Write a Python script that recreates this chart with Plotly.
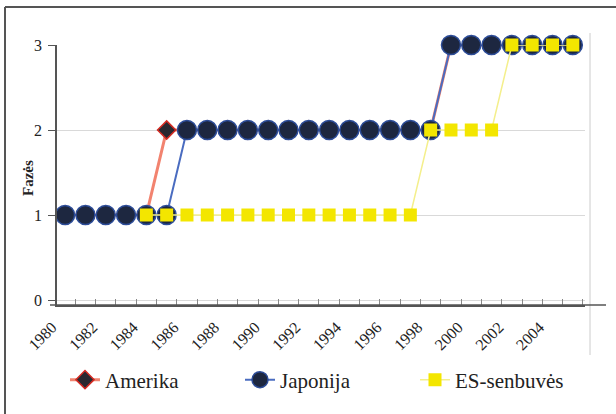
import plotly.graph_objects as go

years = [1980, 1981, 1982, 1983, 1984, 1985, 1986, 1987, 1988, 1989, 1990, 1991, 1992,
         1993, 1994, 1995, 1996, 1997, 1998, 1999, 2000, 2001, 2002, 2003, 2004, 2005]
amerika = [1, 1, 1, 1, 1, 2, 2, 2, 2, 2, 2, 2, 2, 2, 2, 2, 2, 2, 2, 3, 3, 3, 3, 3, 3, 3]
japonija = [1, 1, 1, 1, 1, 1, 2, 2, 2, 2, 2, 2, 2, 2, 2, 2, 2, 2, 2, 3, 3, 3, 3, 3, 3, 3]
es_senbuves = [None, None, None, None, 1, 1, 1, 1, 1, 1, 1, 1, 1, 1, 1, 1, 1, 1,
               2, 2, 2, 2, 3, 3, 3, 3]
tick_years = [1980, 1982, 1984, 1986, 1988, 1990, 1992, 1994, 1996, 1998, 2000, 2002, 2004]
tick_labels = [str(y) for y in tick_years]
y_ticks = [0, 1, 2, 3]
y_tick_labels = ["0", "1", "2", "3"]

FONT = "Liberation Serif"

fig = go.Figure()
fig.add_trace(go.Scatter(
    x=years, y=amerika, name="Amerika", mode="lines+markers",
    line=dict(color="#f2836f", width=3),
    marker=dict(symbol="diamond", size=14, color="#2a2830",
                line=dict(color="#d42a22", width=1.5)),
    cliponaxis=False,
))
fig.add_trace(go.Scatter(
    x=years, y=japonija, name="Japonija", mode="lines+markers",
    line=dict(color="#4a6cc0", width=2),
    marker=dict(symbol="circle", size=19, color="#1d2740",
                line=dict(color="#2c4c98", width=1.5)),
    cliponaxis=False,
))
fig.add_trace(go.Scatter(
    x=years, y=es_senbuves, name="ES-senbuvės", mode="lines+markers",
    line=dict(color="#f4ef8c", width=1.5),
    marker=dict(symbol="square", size=13, color="#f3e600",
                line=dict(color="#f3e600", width=0)),
    cliponaxis=False,
))

L, R, T, B = 57, 31, 45, 109
W, H = 616, 414
pw = W - L - R
ph = H - T - B


def px_x(p):
    return (p - L) / pw


def px_y(p):
    return (H - B - p) / ph


shapes = [
    # outer frame (top and left visible)
    dict(type="line", xref="paper", yref="paper", x0=px_x(5), x1=px_x(620),
         y0=px_y(7), y1=px_y(7), line=dict(color="#555555", width=2)),
    dict(type="line", xref="paper", yref="paper", x0=px_x(5), x1=px_x(5),
         y0=px_y(7), y1=px_y(420), line=dict(color="#555555", width=2)),
    # right plot-area border
    dict(type="line", xref="paper", yref="paper", x0=px_x(590), x1=px_x(590),
         y0=px_y(33), y1=px_y(355), line=dict(color="#cccccc", width=1)),
    # extended x axis line
    dict(type="line", xref="paper", yref="paper", x0=px_x(50), x1=px_x(606),
         y0=0, y1=0, line=dict(color="#555555", width=1.5)),
]

annotations = [dict(text="<b>Fazės</b>", xref="paper", yref="paper",
                    x=px_x(28), y=px_y(178), xanchor="center", yanchor="middle",
                    textangle=-90, showarrow=False,
                    font=dict(family=FONT, size=15, color="#222222"))]
for v, t in zip(y_ticks, y_tick_labels):
    annotations.append(dict(text=t, xref="paper", yref="y", x=px_x(44), y=v,
                            xanchor="right", yanchor="middle", showarrow=False,
                            font=dict(family=FONT, size=16, color="#222222")))

fig.update_layout(
    width=W, height=H,
    margin=dict(l=L, r=R, t=T, b=B, autoexpand=False),
    paper_bgcolor="white", plot_bgcolor="white",
    font=dict(family=FONT, color="#222222"),
    showlegend=True,
    legend=dict(orientation="h", xref="container", yref="container",
                x=65 / W, y=1 - 380 / H, xanchor="left", yanchor="middle",
                font=dict(family=FONT, size=21, color="#222222"),
                entrywidth=130, entrywidthmode="pixels", itemsizing="trace",
                bgcolor="rgba(0,0,0,0)"),
    shapes=shapes,
    annotations=annotations,
    xaxis=dict(
        range=[1979.6, 2005.6], tickmode="array", tickvals=tick_years, ticktext=tick_labels,
        tickangle=-45, ticks="", showgrid=False, zeroline=False,
        showline=True, linecolor="#555555", linewidth=1.5,
        tickfont=dict(family=FONT, size=16, color="#222222"),
        ticklabelshift=-13, ticklabelstandoff=5,
        minor=dict(tick0=1979.5, dtick=1, ticks="inside", ticklen=6,
                   tickcolor="#888888", showgrid=False),
    ),
    yaxis=dict(
        range=[-5 / 85, 3], tickmode="array", tickvals=y_ticks,
        ticks="outside", ticklen=7, tickcolor="#555555", showticklabels=False,
        showgrid=True, gridcolor="#d9d9d9", gridwidth=1, zeroline=False,
        showline=True, linecolor="#555555", linewidth=1.5,
    ),
)

fig.write_html("out.html", config={"displayModeBar": False},
               post_script="document.body.style.margin='0';")
